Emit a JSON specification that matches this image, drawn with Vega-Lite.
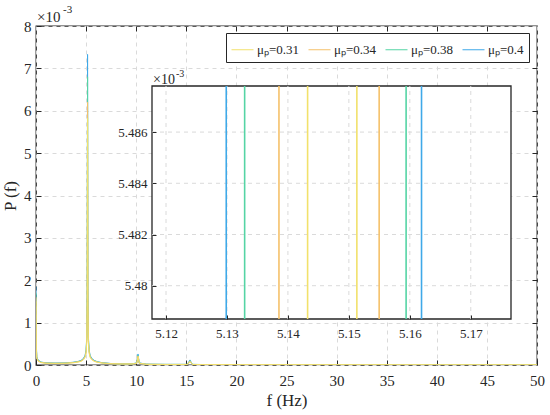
{
  "$schema": "https://vega.github.io/schema/vega-lite/v6.json",
  "width": 501,
  "height": 339,
  "autosize": "none",
  "padding": {"left": 36, "top": 26, "right": 13, "bottom": 50},
  "background": "white",
  "config": {
    "font": "Liberation Serif",
    "view": {"stroke": "#262626", "strokeWidth": 1.3},
    "axis": {
      "labelFont": "Liberation Serif",
      "titleFont": "Liberation Serif",
      "labelColor": "#262626",
      "titleColor": "#262626",
      "tickColor": "#262626",
      "titleFontWeight": "normal"
    },
    "legend": {
      "labelFont": "Liberation Serif",
      "labelColor": "#262626"
    },
    "text": {"font": "Liberation Serif", "color": "#262626"}
  },
  "datasets": {
    "main": [
      {"mu": "μₚ=0.4", "f": 0, "p": 1.85},
      {"mu": "μₚ=0.4", "f": 0.03, "p": 0.5},
      {"mu": "μₚ=0.4", "f": 0.08, "p": 0.2},
      {"mu": "μₚ=0.4", "f": 0.2, "p": 0.12},
      {"mu": "μₚ=0.4", "f": 0.5, "p": 0.07},
      {"mu": "μₚ=0.4", "f": 1, "p": 0.05},
      {"mu": "μₚ=0.4", "f": 2, "p": 0.045},
      {"mu": "μₚ=0.4", "f": 3, "p": 0.05},
      {"mu": "μₚ=0.4", "f": 3.7, "p": 0.065},
      {"mu": "μₚ=0.4", "f": 4.2, "p": 0.085},
      {"mu": "μₚ=0.4", "f": 4.5, "p": 0.11},
      {"mu": "μₚ=0.4", "f": 4.75, "p": 0.16},
      {"mu": "μₚ=0.4", "f": 4.9, "p": 0.23},
      {"mu": "μₚ=0.4", "f": 5.0, "p": 0.36},
      {"mu": "μₚ=0.4", "f": 5.07, "p": 0.7},
      {"mu": "μₚ=0.4", "f": 5.11, "p": 1.8},
      {"mu": "μₚ=0.4", "f": 5.146, "p": 7.33},
      {"mu": "μₚ=0.4", "f": 5.18, "p": 1.8},
      {"mu": "μₚ=0.4", "f": 5.22, "p": 0.7},
      {"mu": "μₚ=0.4", "f": 5.3, "p": 0.36},
      {"mu": "μₚ=0.4", "f": 5.4, "p": 0.23},
      {"mu": "μₚ=0.4", "f": 5.55, "p": 0.16},
      {"mu": "μₚ=0.4", "f": 5.8, "p": 0.11},
      {"mu": "μₚ=0.4", "f": 6.1, "p": 0.08},
      {"mu": "μₚ=0.4", "f": 6.6, "p": 0.055},
      {"mu": "μₚ=0.4", "f": 7.5, "p": 0.035},
      {"mu": "μₚ=0.4", "f": 8.5, "p": 0.028},
      {"mu": "μₚ=0.4", "f": 9.6, "p": 0.028},
      {"mu": "μₚ=0.4", "f": 10.05, "p": 0.05},
      {"mu": "μₚ=0.4", "f": 10.18, "p": 0.26},
      {"mu": "μₚ=0.4", "f": 10.3, "p": 0.05},
      {"mu": "μₚ=0.4", "f": 11, "p": 0.02},
      {"mu": "μₚ=0.4", "f": 13, "p": 0.015},
      {"mu": "μₚ=0.4", "f": 15.1, "p": 0.015},
      {"mu": "μₚ=0.4", "f": 15.37, "p": 0.12},
      {"mu": "μₚ=0.4", "f": 15.6, "p": 0.015},
      {"mu": "μₚ=0.4", "f": 17, "p": 0.01},
      {"mu": "μₚ=0.4", "f": 20, "p": 0.008},
      {"mu": "μₚ=0.4", "f": 30, "p": 0.006},
      {"mu": "μₚ=0.4", "f": 40, "p": 0.005},
      {"mu": "μₚ=0.4", "f": 50, "p": 0.004},

      {"mu": "μₚ=0.38", "f": 0, "p": 1.7},
      {"mu": "μₚ=0.38", "f": 0.03, "p": 0.45},
      {"mu": "μₚ=0.38", "f": 0.08, "p": 0.18},
      {"mu": "μₚ=0.38", "f": 0.2, "p": 0.11},
      {"mu": "μₚ=0.38", "f": 0.5, "p": 0.065},
      {"mu": "μₚ=0.38", "f": 1, "p": 0.047},
      {"mu": "μₚ=0.38", "f": 2, "p": 0.042},
      {"mu": "μₚ=0.38", "f": 3, "p": 0.046},
      {"mu": "μₚ=0.38", "f": 3.7, "p": 0.06},
      {"mu": "μₚ=0.38", "f": 4.2, "p": 0.08},
      {"mu": "μₚ=0.38", "f": 4.5, "p": 0.1},
      {"mu": "μₚ=0.38", "f": 4.75, "p": 0.15},
      {"mu": "μₚ=0.38", "f": 4.9, "p": 0.21},
      {"mu": "μₚ=0.38", "f": 5.0, "p": 0.33},
      {"mu": "μₚ=0.38", "f": 5.07, "p": 0.65},
      {"mu": "μₚ=0.38", "f": 5.11, "p": 1.7},
      {"mu": "μₚ=0.38", "f": 5.146, "p": 6.8},
      {"mu": "μₚ=0.38", "f": 5.18, "p": 1.7},
      {"mu": "μₚ=0.38", "f": 5.22, "p": 0.65},
      {"mu": "μₚ=0.38", "f": 5.3, "p": 0.33},
      {"mu": "μₚ=0.38", "f": 5.4, "p": 0.21},
      {"mu": "μₚ=0.38", "f": 5.55, "p": 0.15},
      {"mu": "μₚ=0.38", "f": 5.8, "p": 0.1},
      {"mu": "μₚ=0.38", "f": 6.1, "p": 0.075},
      {"mu": "μₚ=0.38", "f": 6.6, "p": 0.05},
      {"mu": "μₚ=0.38", "f": 7.5, "p": 0.033},
      {"mu": "μₚ=0.38", "f": 8.5, "p": 0.026},
      {"mu": "μₚ=0.38", "f": 9.6, "p": 0.026},
      {"mu": "μₚ=0.38", "f": 10.05, "p": 0.045},
      {"mu": "μₚ=0.38", "f": 10.18, "p": 0.23},
      {"mu": "μₚ=0.38", "f": 10.3, "p": 0.045},
      {"mu": "μₚ=0.38", "f": 11, "p": 0.018},
      {"mu": "μₚ=0.38", "f": 13, "p": 0.014},
      {"mu": "μₚ=0.38", "f": 15.1, "p": 0.014},
      {"mu": "μₚ=0.38", "f": 15.37, "p": 0.1},
      {"mu": "μₚ=0.38", "f": 15.6, "p": 0.014},
      {"mu": "μₚ=0.38", "f": 17, "p": 0.009},
      {"mu": "μₚ=0.38", "f": 20, "p": 0.007},
      {"mu": "μₚ=0.38", "f": 30, "p": 0.006},
      {"mu": "μₚ=0.38", "f": 40, "p": 0.005},
      {"mu": "μₚ=0.38", "f": 50, "p": 0.004},

      {"mu": "μₚ=0.34", "f": 0, "p": 1.6},
      {"mu": "μₚ=0.34", "f": 0.03, "p": 0.42},
      {"mu": "μₚ=0.34", "f": 0.08, "p": 0.17},
      {"mu": "μₚ=0.34", "f": 0.2, "p": 0.1},
      {"mu": "μₚ=0.34", "f": 0.5, "p": 0.06},
      {"mu": "μₚ=0.34", "f": 1, "p": 0.044},
      {"mu": "μₚ=0.34", "f": 2, "p": 0.04},
      {"mu": "μₚ=0.34", "f": 3, "p": 0.043},
      {"mu": "μₚ=0.34", "f": 3.7, "p": 0.056},
      {"mu": "μₚ=0.34", "f": 4.2, "p": 0.075},
      {"mu": "μₚ=0.34", "f": 4.5, "p": 0.095},
      {"mu": "μₚ=0.34", "f": 4.75, "p": 0.14},
      {"mu": "μₚ=0.34", "f": 4.9, "p": 0.2},
      {"mu": "μₚ=0.34", "f": 5.0, "p": 0.31},
      {"mu": "μₚ=0.34", "f": 5.07, "p": 0.6},
      {"mu": "μₚ=0.34", "f": 5.11, "p": 1.6},
      {"mu": "μₚ=0.34", "f": 5.147, "p": 6.2},
      {"mu": "μₚ=0.34", "f": 5.18, "p": 1.6},
      {"mu": "μₚ=0.34", "f": 5.22, "p": 0.6},
      {"mu": "μₚ=0.34", "f": 5.3, "p": 0.31},
      {"mu": "μₚ=0.34", "f": 5.4, "p": 0.2},
      {"mu": "μₚ=0.34", "f": 5.55, "p": 0.14},
      {"mu": "μₚ=0.34", "f": 5.8, "p": 0.095},
      {"mu": "μₚ=0.34", "f": 6.1, "p": 0.07},
      {"mu": "μₚ=0.34", "f": 6.6, "p": 0.048},
      {"mu": "μₚ=0.34", "f": 7.5, "p": 0.031},
      {"mu": "μₚ=0.34", "f": 8.5, "p": 0.025},
      {"mu": "μₚ=0.34", "f": 9.6, "p": 0.025},
      {"mu": "μₚ=0.34", "f": 10.05, "p": 0.04},
      {"mu": "μₚ=0.34", "f": 10.18, "p": 0.21},
      {"mu": "μₚ=0.34", "f": 10.3, "p": 0.04},
      {"mu": "μₚ=0.34", "f": 11, "p": 0.017},
      {"mu": "μₚ=0.34", "f": 13, "p": 0.013},
      {"mu": "μₚ=0.34", "f": 15.1, "p": 0.013},
      {"mu": "μₚ=0.34", "f": 15.37, "p": 0.09},
      {"mu": "μₚ=0.34", "f": 15.6, "p": 0.013},
      {"mu": "μₚ=0.34", "f": 17, "p": 0.009},
      {"mu": "μₚ=0.34", "f": 20, "p": 0.007},
      {"mu": "μₚ=0.34", "f": 30, "p": 0.005},
      {"mu": "μₚ=0.34", "f": 40, "p": 0.004},
      {"mu": "μₚ=0.34", "f": 50, "p": 0.004},

      {"mu": "μₚ=0.31", "f": 0, "p": 1.5},
      {"mu": "μₚ=0.31", "f": 0.03, "p": 0.4},
      {"mu": "μₚ=0.31", "f": 0.08, "p": 0.16},
      {"mu": "μₚ=0.31", "f": 0.2, "p": 0.095},
      {"mu": "μₚ=0.31", "f": 0.5, "p": 0.055},
      {"mu": "μₚ=0.31", "f": 1, "p": 0.04},
      {"mu": "μₚ=0.31", "f": 2, "p": 0.037},
      {"mu": "μₚ=0.31", "f": 3, "p": 0.04},
      {"mu": "μₚ=0.31", "f": 3.7, "p": 0.052},
      {"mu": "μₚ=0.31", "f": 4.2, "p": 0.068},
      {"mu": "μₚ=0.31", "f": 4.5, "p": 0.086},
      {"mu": "μₚ=0.31", "f": 4.75, "p": 0.125},
      {"mu": "μₚ=0.31", "f": 4.9, "p": 0.18},
      {"mu": "μₚ=0.31", "f": 5.0, "p": 0.28},
      {"mu": "μₚ=0.31", "f": 5.07, "p": 0.55},
      {"mu": "μₚ=0.31", "f": 5.11, "p": 1.5},
      {"mu": "μₚ=0.31", "f": 5.147, "p": 5.83},
      {"mu": "μₚ=0.31", "f": 5.18, "p": 1.5},
      {"mu": "μₚ=0.31", "f": 5.22, "p": 0.55},
      {"mu": "μₚ=0.31", "f": 5.3, "p": 0.28},
      {"mu": "μₚ=0.31", "f": 5.4, "p": 0.18},
      {"mu": "μₚ=0.31", "f": 5.55, "p": 0.125},
      {"mu": "μₚ=0.31", "f": 5.8, "p": 0.086},
      {"mu": "μₚ=0.31", "f": 6.1, "p": 0.064},
      {"mu": "μₚ=0.31", "f": 6.6, "p": 0.044},
      {"mu": "μₚ=0.31", "f": 7.5, "p": 0.03},
      {"mu": "μₚ=0.31", "f": 8.5, "p": 0.024},
      {"mu": "μₚ=0.31", "f": 9.6, "p": 0.024},
      {"mu": "μₚ=0.31", "f": 10.05, "p": 0.04},
      {"mu": "μₚ=0.31", "f": 10.2, "p": 0.2},
      {"mu": "μₚ=0.31", "f": 10.32, "p": 0.04},
      {"mu": "μₚ=0.31", "f": 11, "p": 0.016},
      {"mu": "μₚ=0.31", "f": 13, "p": 0.012},
      {"mu": "μₚ=0.31", "f": 15.1, "p": 0.012},
      {"mu": "μₚ=0.31", "f": 15.4, "p": 0.08},
      {"mu": "μₚ=0.31", "f": 15.62, "p": 0.012},
      {"mu": "μₚ=0.31", "f": 17, "p": 0.008},
      {"mu": "μₚ=0.31", "f": 20, "p": 0.006},
      {"mu": "μₚ=0.31", "f": 30, "p": 0.005},
      {"mu": "μₚ=0.31", "f": 40, "p": 0.004},
      {"mu": "μₚ=0.31", "f": 50, "p": 0.004}
    ],
    "zoom": [
      {"mu": "μₚ=0.4", "seg": "L", "f": 5.12988, "p": 5.4787},
      {"mu": "μₚ=0.4", "seg": "L", "f": 5.12988, "p": 5.4878},
      {"mu": "μₚ=0.4", "seg": "R", "f": 5.16192, "p": 5.4787},
      {"mu": "μₚ=0.4", "seg": "R", "f": 5.16192, "p": 5.4878},
      {"mu": "μₚ=0.38", "seg": "L", "f": 5.1329, "p": 5.4787},
      {"mu": "μₚ=0.38", "seg": "L", "f": 5.1329, "p": 5.4878},
      {"mu": "μₚ=0.38", "seg": "R", "f": 5.15939, "p": 5.4787},
      {"mu": "μₚ=0.38", "seg": "R", "f": 5.15939, "p": 5.4878},
      {"mu": "μₚ=0.34", "seg": "L", "f": 5.13853, "p": 5.4787},
      {"mu": "μₚ=0.34", "seg": "L", "f": 5.13853, "p": 5.4878},
      {"mu": "μₚ=0.34", "seg": "R", "f": 5.15497, "p": 5.4787},
      {"mu": "μₚ=0.34", "seg": "R", "f": 5.15497, "p": 5.4878},
      {"mu": "μₚ=0.31", "seg": "L", "f": 5.14323, "p": 5.4787},
      {"mu": "μₚ=0.31", "seg": "L", "f": 5.14323, "p": 5.4878},
      {"mu": "μₚ=0.31", "seg": "R", "f": 5.15131, "p": 5.4787},
      {"mu": "μₚ=0.31", "seg": "R", "f": 5.15131, "p": 5.4878}
    ]
  },
  "layer": [
    {
      "layer": [
        {
          "data": {"name": "main"},
          "mark": {"type": "line", "strokeWidth": 1, "clip": true},
          "encoding": {
            "x": {
              "field": "f",
              "type": "quantitative",
              "scale": {"domain": [0, 50], "nice": false},
              "axis": {
                "values": [0, 5, 10, 15, 20, 25, 30, 35, 40, 45, 50],
                "title": "f (Hz)",
                "titleFontSize": 17,
                "titlePadding": 4,
                "labelFontSize": 15,
                "labelPadding": 13,
                "tickSize": -5,
                "domain": false,
                "grid": true,
                "gridDash": [4, 4],
                "gridColor": "#dadada",
                "labelFlush": false
              }
            },
            "y": {
              "field": "p",
              "type": "quantitative",
              "scale": {"domain": [0, 8], "nice": false},
              "axis": {
                "values": [0, 1, 2, 3, 4, 5, 6, 7, 8],
                "title": "P (f)",
                "titleFontSize": 17,
                "titlePadding": 4,
                "labelFontSize": 15,
                "labelPadding": 10,
                "tickSize": -5,
                "domain": false,
                "grid": true,
                "gridDash": [4, 4],
                "gridColor": "#dadada",
                "labelFlush": false
              }
            },
            "color": {
              "field": "mu",
              "type": "nominal",
              "scale": {
                "domain": ["μₚ=0.31", "μₚ=0.34", "μₚ=0.38", "μₚ=0.4"],
                "range": ["#F2E16B", "#F5C16A", "#55D4A5", "#3FA9E8"]
              },
              "legend": {
                "orient": "none",
                "legendX": 190,
                "legendY": 7,
                "direction": "horizontal",
                "title": null,
                "symbolType": "stroke",
                "symbolSize": 484,
                "symbolStrokeWidth": 1,
                "labelFontSize": 13,
                "labelOffset": 3,
                "columnPadding": 6,
                "padding": 5,
                "fillColor": "white",
                "strokeColor": "#262626"
              }
            }
          }
        },
        {
          "data": {"values": [{"t": "×10", "size": "big"}]},
          "mark": {"type": "text", "align": "left", "baseline": "alphabetic", "fontSize": 15, "dx": 1, "dy": -4},
          "encoding": {
            "x": {"datum": 0, "type": "quantitative"},
            "y": {"datum": 8, "type": "quantitative"},
            "text": {"field": "t"}
          }
        },
        {
          "data": {"values": [{"t": "-3"}]},
          "mark": {"type": "text", "align": "left", "baseline": "alphabetic", "fontSize": 11, "dx": 27, "dy": -13},
          "encoding": {
            "x": {"datum": 0, "type": "quantitative"},
            "y": {"datum": 8, "type": "quantitative"},
            "text": {"field": "t"}
          }
        }
      ]
    },
    {
      "data": {"values": [{}]},
      "mark": {"type": "point", "opacity": 0},
      "encoding": {
        "x": {
          "datum": 0,
          "type": "quantitative",
          "scale": {"domain": [0, 50], "nice": false},
          "axis": {"orient": "top", "values": [5, 10, 15, 20, 25, 30, 35, 40, 45], "labels": false, "tickSize": -5, "grid": false, "domain": false, "title": null}
        },
        "y": {
          "datum": 0,
          "type": "quantitative",
          "scale": {"domain": [0, 8], "nice": false},
          "axis": {"orient": "right", "values": [1, 2, 3, 4, 5, 6, 7], "labels": false, "tickSize": -5, "grid": false, "domain": false, "title": null}
        }
      }
    },
    {
      "layer": [
        {
          "data": {"values": [{}]},
          "mark": {"type": "rect", "fill": "white", "stroke": "#262626", "strokeWidth": 1.3},
          "encoding": {
            "x": {
              "datum": 5.1177,
              "type": "quantitative",
              "scale": {"domain": [5.1177, 5.1766], "range": [116, 475], "nice": false, "zero": false},
              "axis": {
                "orient": "bottom",
                "offset": -46,
                "values": [5.12, 5.13, 5.14, 5.15, 5.16, 5.17],
                "format": ".2f",
                "labelFontSize": 13,
                "labelPadding": 12,
                "tickSize": -4,
                "domain": false,
                "grid": false,
                "title": null,
                "zindex": 1,
                "labelFlush": false
              }
            },
            "x2": {"datum": 5.1766},
            "y": {
              "datum": 5.4787,
              "type": "quantitative",
              "scale": {"domain": [5.4787, 5.4878], "range": [293, 60], "nice": false, "zero": false},
              "axis": {
                "orient": "left",
                "offset": -116,
                "values": [5.48, 5.482, 5.484, 5.486],
                "format": ".3~f",
                "labelFontSize": 13,
                "labelPadding": 9,
                "tickSize": -4,
                "domain": false,
                "grid": false,
                "title": null,
                "zindex": 1,
                "labelFlush": false
              }
            },
            "y2": {"datum": 5.4878}
          }
        },
        {
          "data": {"values": [{"g": 5.12}, {"g": 5.13}, {"g": 5.14}, {"g": 5.15}, {"g": 5.16}, {"g": 5.17}]},
          "mark": {"type": "rule", "strokeDash": [4, 4], "color": "#dadada"},
          "encoding": {
            "x": {"field": "g", "type": "quantitative", "title": null},
            "y": {"datum": 5.4787, "type": "quantitative", "title": null},
            "y2": {"datum": 5.4878}
          }
        },
        {
          "data": {"values": [{"g": 5.48}, {"g": 5.482}, {"g": 5.484}, {"g": 5.486}]},
          "mark": {"type": "rule", "strokeDash": [4, 4], "color": "#dadada"},
          "encoding": {
            "y": {"field": "g", "type": "quantitative", "title": null},
            "x": {"datum": 5.1177, "type": "quantitative", "title": null},
            "x2": {"datum": 5.1766}
          }
        },
        {
          "data": {"name": "zoom"},
          "mark": {"type": "line", "strokeWidth": 1.6},
          "encoding": {
            "x": {"field": "f", "type": "quantitative", "title": null},
            "y": {"field": "p", "type": "quantitative", "title": null},
            "color": {"field": "mu", "type": "nominal"},
            "detail": {"field": "seg"}
          }
        },
        {
          "data": {"values": [{"t": "×10"}]},
          "mark": {"type": "text", "align": "left", "baseline": "alphabetic", "fontSize": 14, "dx": 1, "dy": -2},
          "encoding": {
            "x": {"datum": 5.1177, "type": "quantitative", "title": null},
            "y": {"datum": 5.4878, "type": "quantitative", "title": null},
            "text": {"field": "t"}
          }
        },
        {
          "data": {"values": [{"t": "-3"}]},
          "mark": {"type": "text", "align": "left", "baseline": "alphabetic", "fontSize": 10, "dx": 24, "dy": -9},
          "encoding": {
            "x": {"datum": 5.1177, "type": "quantitative", "title": null},
            "y": {"datum": 5.4878, "type": "quantitative", "title": null},
            "text": {"field": "t"}
          }
        }
      ]
    }
  ],
  "resolve": {"scale": {"x": "independent", "y": "independent"}}
}
